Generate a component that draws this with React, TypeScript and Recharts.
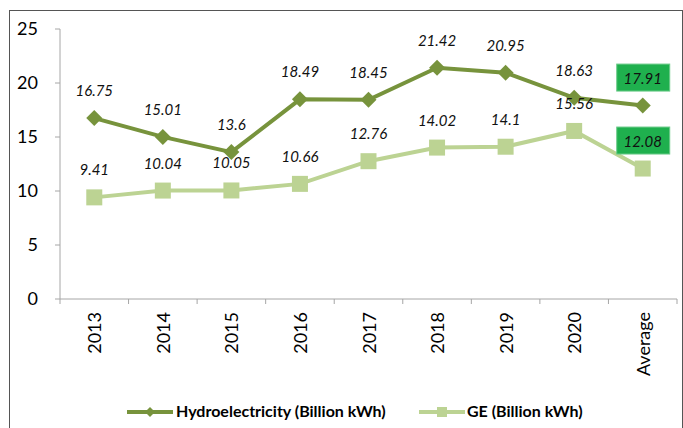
import React from 'react';
import { LineChart, Line, XAxis, YAxis, LabelList, Legend } from 'recharts';

// values
const years = ['2013', '2014', '2015', '2016', '2017', '2018', '2019', '2020', 'Average'];
const hydro = [16.75, 15.01, 13.6, 18.49, 18.45, 21.42, 20.95, 18.63, 17.91];
const ge = [9.41, 10.04, 10.05, 10.66, 12.76, 14.02, 14.1, 15.56, 12.08];
const yTicks = [0, 5, 10, 15, 20, 25];

const data = years.map((name, i) => ({ name, hydro: hydro[i], ge: ge[i] }));

const FONT = 'Lato, "Open Sans", sans-serif';
const HYDRO = '#77933C';
const GE = '#BCD393';
const BOX = '#1FB04E';
const AXIS = '#A6A6A6';

const XTick = (props: any) => {
    const { x, y, payload, index } = props;
    const half = payload && payload.offset ? payload.offset : 34.3;
    const last = index === years.length - 1;
    return (
        <g>
            <line x1={x - half} x2={x - half} y1={y} y2={y + 5} stroke={AXIS} />
            {last && <line x1={x + half} x2={x + half} y1={y} y2={y + 5} stroke={AXIS} />}
            <text
                x={x}
                y={y + 13}
                transform={`rotate(-90, ${x}, ${y + 13})`}
                textAnchor="end"
                dominantBaseline="central"
                fill="#000"
                fontSize={18}
                fontFamily={FONT}
            >
                {payload.value}
            </text>
        </g>
    );
};

// value labels, the "Average" one sits in a green box
const renderLabel = (p: any) => {
    const { x, y, value, index } = p;
    const cy = y - 28;
    const boxed = index === years.length - 1;
    return (
        <g key={`l-${index}`}>
            {boxed && <rect x={x - 26} y={cy - 13.5} width={53} height={27} fill={BOX} stroke="#6CCB8A" strokeWidth={1} />}
            <text
                x={x}
                y={cy}
                textAnchor="middle"
                dominantBaseline="central"
                fontStyle="italic"
                fontSize={15}
                fontFamily={FONT}
                fill="#111"
            >
                {value}
            </text>
        </g>
    );
};

const Diamond = (props: any) => {
    const { cx, cy } = props;
    if (cx == null || cy == null) return null;
    return <path d={`M${cx},${cy - 8}L${cx + 8},${cy}L${cx},${cy + 8}L${cx - 8},${cy}Z`} fill={HYDRO} />;
};

const Square = (props: any) => {
    const { cx, cy } = props;
    if (cx == null || cy == null) return null;
    return <rect x={cx - 8} y={cy - 8} width={16} height={16} fill={GE} />;
};

const LegendBox = () => (
    <div style={{ position: 'relative', height: 30, width: 683, fontFamily: FONT, fontWeight: 700, fontSize: 16, color: '#000' }}>
        <svg width={46} height={12} style={{ position: 'absolute', left: 127, top: 10 }}>
            <line x1={0} x2={46} y1={6} y2={6} stroke={HYDRO} strokeWidth={4} />
            <path d="M23,1L28,6L23,11L18,6Z" fill={HYDRO} />
        </svg>
        <span style={{ position: 'absolute', left: 176, top: 5 }}>Hydroelectricity (Billion kWh)</span>
        <svg width={46} height={12} style={{ position: 'absolute', left: 419, top: 10 }}>
            <line x1={0} x2={46} y1={6} y2={6} stroke={GE} strokeWidth={4} />
            <rect x={18} y={1} width={10} height={10} fill={GE} />
        </svg>
        <span style={{ position: 'absolute', left: 467, top: 5 }}>GE (Billion kWh)</span>
    </div>
);

export default function App() {
    return (
        <div style={{ position: 'fixed', left: 0, top: 0, width: 683, height: 428, overflow: 'hidden', background: '#fff' }}>
            <div
                style={{
                    position: 'absolute',
                    left: 9,
                    top: 10,
                    width: 672,
                    height: 440,
                    borderLeft: '1px solid #555',
                    borderTop: '1px solid #555',
                    borderRight: '1px solid #555',
                }}
            />
            <div style={{ position: 'absolute', left: 0, top: 0 }}>
                <LineChart width={683} height={428} data={data} margin={{ top: 29, right: 6, left: 0, bottom: 2 }}>
                    <XAxis
                        dataKey="name"
                        scale="band"
                        height={97}
                        interval={0}
                        stroke={AXIS}
                        tickLine={false}
                        tickSize={0}
                        tickMargin={0}
                        tick={<XTick />}
                    />
                    <YAxis
                        width={60}
                        domain={[0, 25]}
                        ticks={yTicks}
                        stroke={AXIS}
                        tickSize={5}
                        tickMargin={17}
                        tick={{ fill: '#000', fontSize: 18, fontFamily: FONT }}
                    />
                    <Legend verticalAlign="bottom" align="left" content={<LegendBox />} />
                    <Line
                        dataKey="hydro"
                        name="Hydroelectricity (Billion kWh)"
                        stroke={HYDRO}
                        strokeWidth={4}
                        dot={<Diamond />}
                        activeDot={false}
                        isAnimationActive={false}
                    >
                        <LabelList dataKey="hydro" content={renderLabel} />
                    </Line>
                    <Line
                        dataKey="ge"
                        name="GE (Billion kWh)"
                        stroke={GE}
                        strokeWidth={4}
                        dot={<Square />}
                        activeDot={false}
                        isAnimationActive={false}
                    >
                        <LabelList dataKey="ge" content={renderLabel} />
                    </Line>
                </LineChart>
            </div>
        </div>
    );
}
